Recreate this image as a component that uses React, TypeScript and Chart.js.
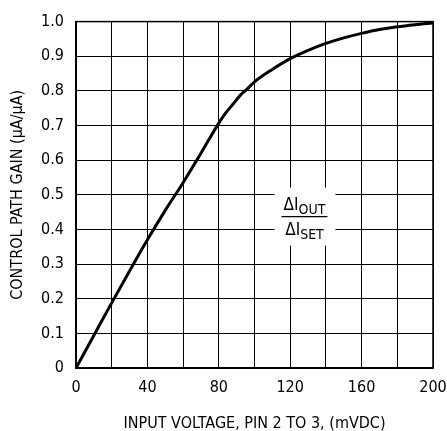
import React, { useEffect, useRef } from "react";
import { Chart, registerables } from "chart.js";

Chart.register(...registerables);

const inputVoltage = [0, 10, 20, 30, 40, 50, 60, 70, 80, 84, 88, 92, 96, 100, 110, 120, 130, 140, 150, 160, 170, 180, 190, 200];
const controlGain = [0, 0.094, 0.188, 0.28, 0.37, 0.455, 0.535, 0.62, 0.707, 0.737, 0.762, 0.787, 0.806, 0.826, 0.862, 0.893, 0.917, 0.937, 0.953, 0.966, 0.977, 0.985, 0.991, 0.996];
const xTitle = "INPUT VOLTAGE, PIN 2 TO 3, (mVDC)";
const yTitle = "CONTROL PATH GAIN (\u00B5A/\u00B5A)";
const labelPos = { x: 128, y: 0.44 };

const FONT = "'DejaVu Sans Condensed', 'Liberation Sans Narrow', sans-serif";

const fractionPlugin = {
  id: "fraction",
  afterDraw(chart: any) {
    const ctx = chart.ctx;
    const cx = chart.scales.x.getPixelForValue(labelPos.x);
    const cy = chart.scales.y.getPixelForValue(labelPos.y);
    ctx.save();
    ctx.fillStyle = "#fff";
    ctx.fillRect(cx - 30, cy - 28, 61, 58);
    ctx.fillStyle = "#000";
    ctx.textBaseline = "alphabetic";
    ctx.textAlign = "left";
    const big = `17px ${FONT}`;
    const small = `14px ${FONT}`;
    ctx.font = big;
    const wD = ctx.measureText("\u0394I").width;
    ctx.font = small;
    const wOut = ctx.measureText("OUT").width;
    let x0 = cx - (wD + wOut) / 2;
    ctx.font = big;
    ctx.fillText("\u0394I", x0, cy - 6);
    ctx.font = small;
    ctx.fillText("OUT", x0 + wD, cy - 2);
    ctx.strokeStyle = "#000";
    ctx.lineWidth = 1.2;
    ctx.beginPath();
    ctx.moveTo(cx - 23, cy + 1);
    ctx.lineTo(cx + 23, cy + 1);
    ctx.stroke();
    const wSet = ctx.measureText("SET").width;
    x0 = cx - (wD + wSet) / 2;
    ctx.font = big;
    ctx.fillText("\u0394I", x0, cy + 19);
    ctx.font = small;
    ctx.fillText("SET", x0 + wD, cy + 23);
    ctx.restore();
  },
};

export default function App() {
  const ref = useRef<HTMLCanvasElement>(null);
  useEffect(() => {
    if (!ref.current) return;
    const chart = new Chart(ref.current, {
      type: "line",
      data: {
        datasets: [
          {
            data: inputVoltage.map((v, i) => ({ x: v, y: controlGain[i] })),
            borderColor: "#000",
            borderWidth: 3,
            pointRadius: 0,
            cubicInterpolationMode: "monotone",
            fill: false,
          },
        ],
      },
      options: {
        animation: false,
        responsive: false,
        maintainAspectRatio: false,
        layout: { padding: { left: 0, right: 14, top: 18, bottom: 0 } },
        plugins: { legend: { display: false }, tooltip: { enabled: false } },
        scales: {
          x: {
            type: "linear",
            min: 0,
            max: 200,
            border: { color: "#000", width: 1.5 },
            grid: { color: "#000", lineWidth: 1, drawTicks: false },
            ticks: {
              stepSize: 20,
              autoSkip: false,
              maxRotation: 0,
              padding: 10,
              color: "#000",
              font: { family: FONT, size: 16 },
              callback: (v: any) => (Number(v) % 40 === 0 ? String(v) : ""),
            },
            title: {
              display: true,
              text: xTitle,
              color: "#000",
              font: { family: FONT, size: 16 },
              padding: { top: 0, bottom: -2 },
            },
            afterFit: (s: any) => {
              s.height = 63;
              s.paddingRight = 0;
            },
          },
          y: {
            type: "linear",
            min: 0,
            max: 1,
            border: { color: "#000", width: 1.5 },
            grid: { color: "#000", lineWidth: 1, drawTicks: false },
            ticks: {
              stepSize: 0.1,
              padding: 12,
              color: "#000",
              font: { family: FONT, size: 16 },
              callback: (v: any) => (Number(v) === 0 ? "0" : Number(v).toFixed(1)),
            },
            title: {
              display: true,
              text: yTitle,
              color: "#000",
              font: { family: FONT, size: 16 },
              padding: { top: 8, bottom: 0 },
            },
            afterFit: (s: any) => {
              s.width = 76;
            },
          },
        },
      },
      plugins: [
        fractionPlugin,
        {
          id: "frame",
          afterDraw(c: any) {
            const a = c.chartArea;
            const ctx = c.ctx;
            ctx.save();
            ctx.strokeStyle = "#000";
            ctx.lineWidth = 1.5;
            ctx.strokeRect(a.left, a.top, a.right - a.left, a.bottom - a.top);
            ctx.restore();
          },
        },
      ],
    } as any);
    return () => chart.destroy();
  }, []);
  return (
    <div style={{ position: "fixed", left: 0, top: 0, width: 447, height: 431, background: "#fff" }}>
      <canvas ref={ref} width={447} height={431} style={{ width: 447, height: 431 }} />
    </div>
  );
}
